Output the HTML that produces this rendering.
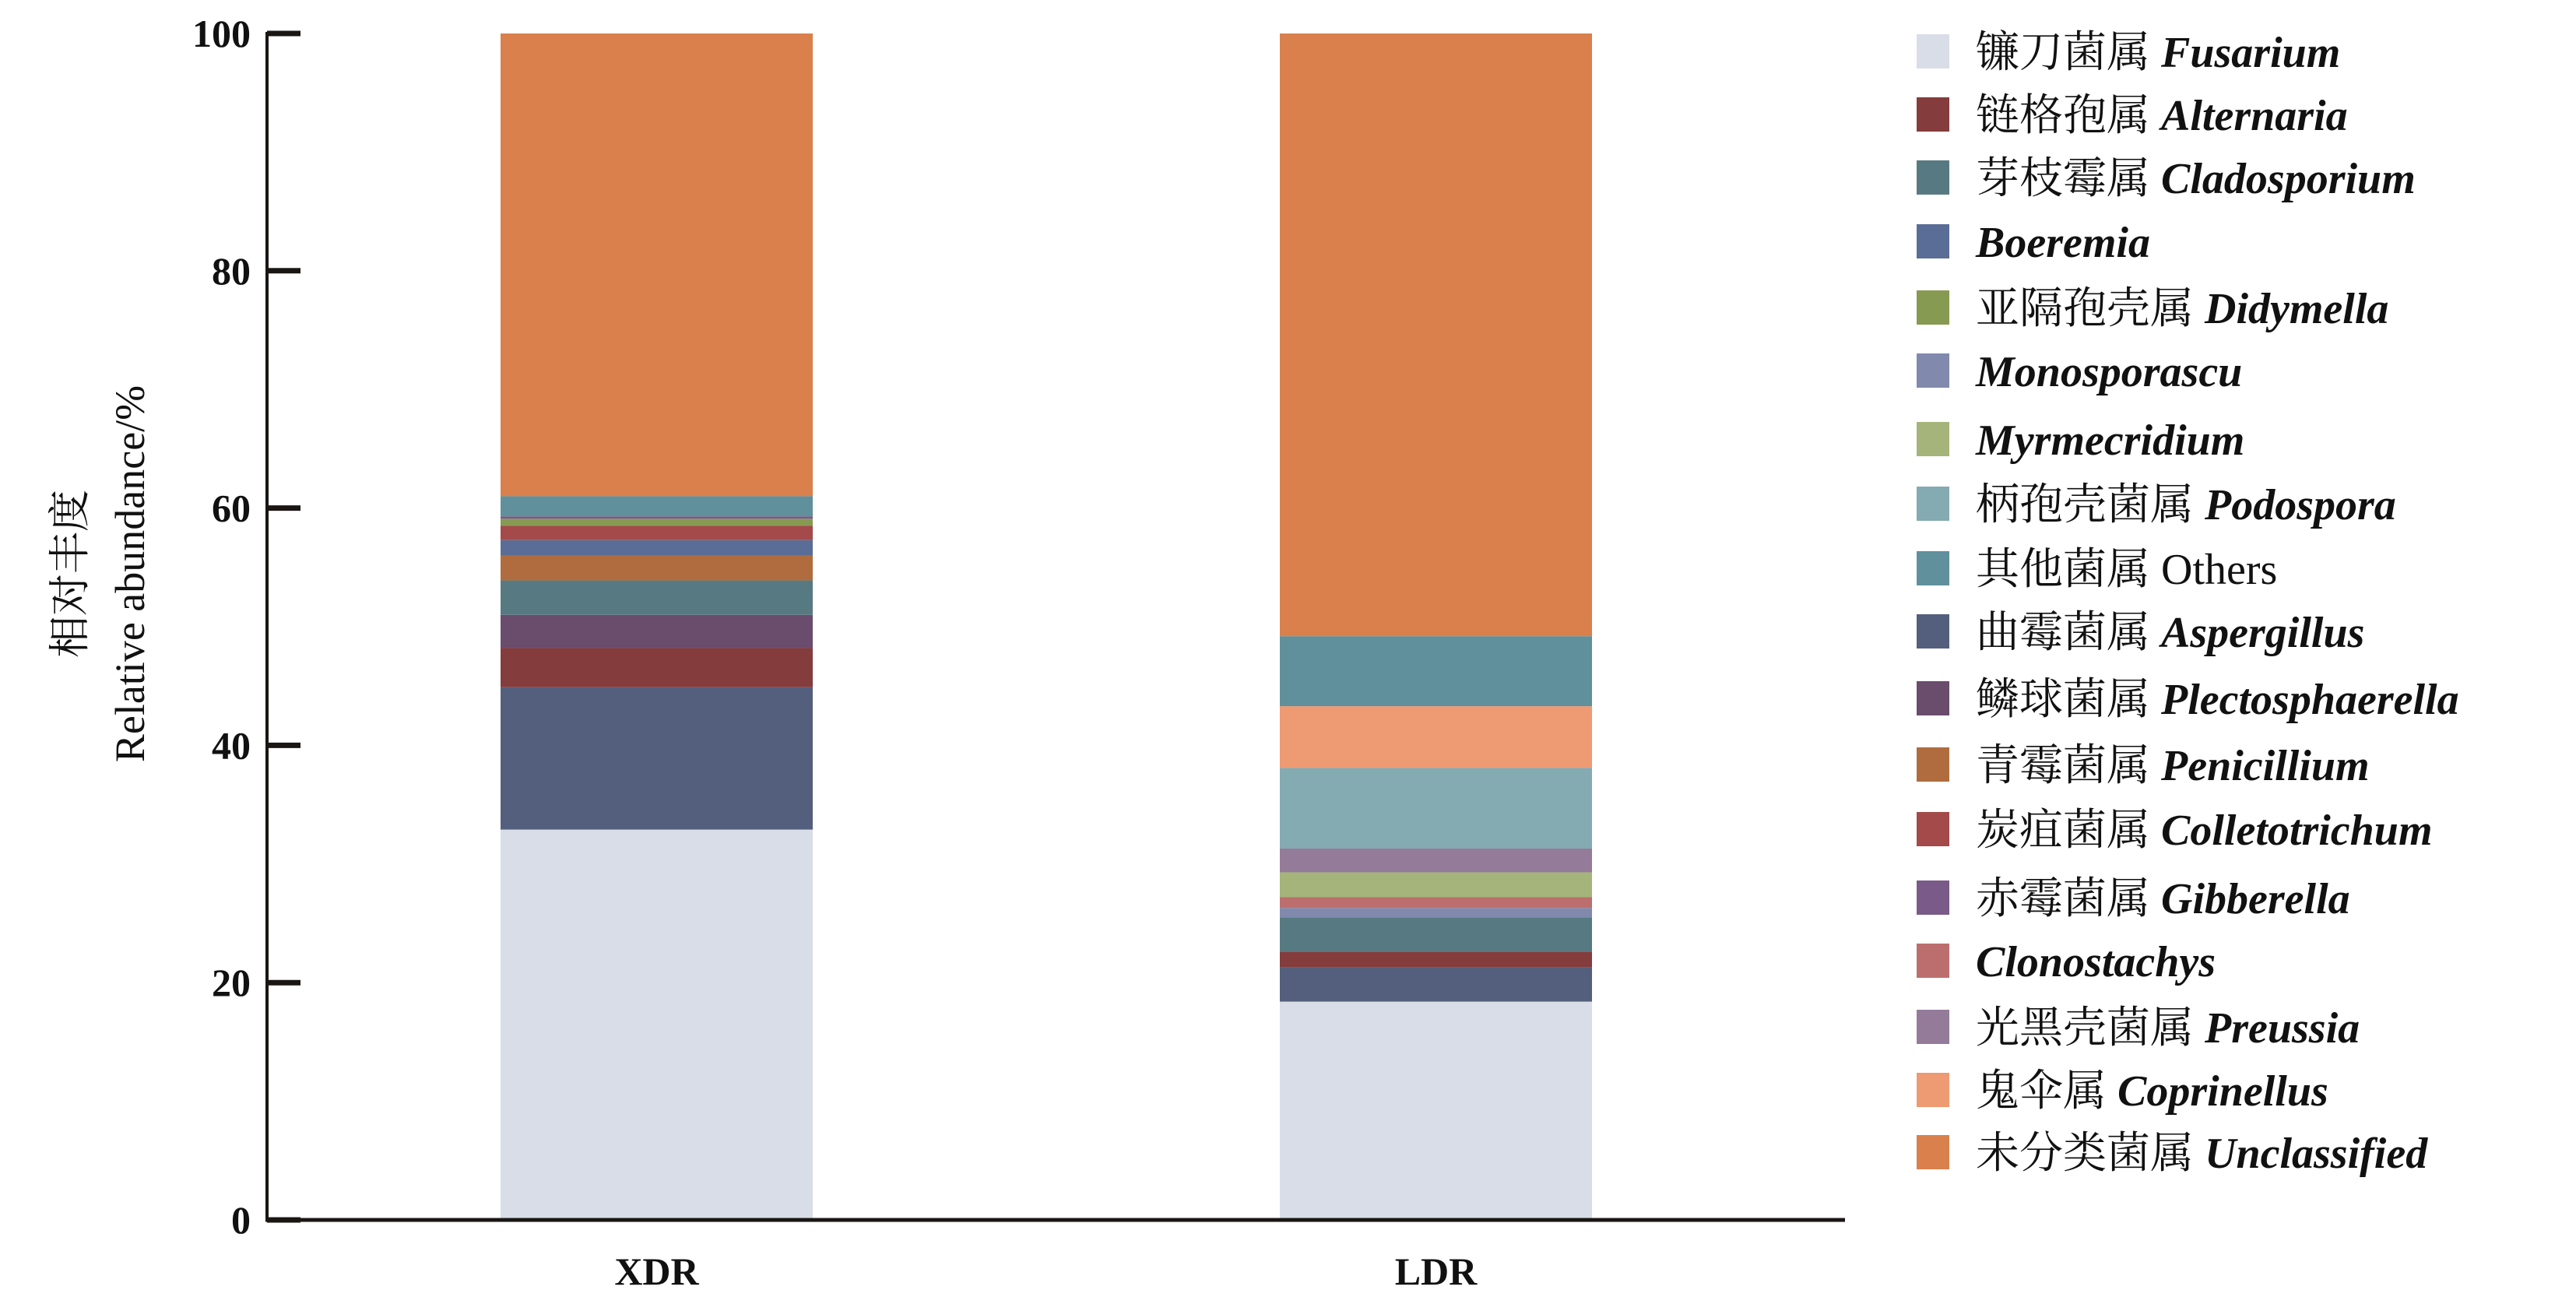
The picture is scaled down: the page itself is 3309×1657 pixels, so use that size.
<!DOCTYPE html>
<html><head><meta charset="utf-8">
<style>
html,body{margin:0;padding:0;background:#fff;}
svg{display:block;}
.tick{font-family:"Liberation Serif","Noto Serif CJK SC",serif;font-weight:bold;font-size:50px;fill:#111;}
.leg{font-family:"Liberation Serif","Noto Serif CJK SC",serif;font-size:56px;fill:#111;}
.it{font-style:italic;font-weight:bold;}
</style></head>
<body>
<svg id="chart" width="3309" height="1657" viewBox="0 0 3309 1657" xmlns="http://www.w3.org/2000/svg">
<g id="bars"></g>
<g id="axes"></g>
<g id="legend"></g>
<text class="leg" transform="translate(108,737) rotate(-90)" text-anchor="middle" style="font-size:54px">相对丰度</text>
<text class="leg" transform="translate(185,737) rotate(-90)" text-anchor="middle" style="font-size:54px">Relative abundance/%</text>
</svg>
<script>
const categories = ["XDR", "LDR"];
const seriesNames = ["Fusarium","Aspergillus","Alternaria","Plectosphaerella","Cladosporium","Penicillium","Boeremia","Colletotrichum","Didymella","Gibberella","Monosporascu","Clonostachys","Myrmecridium","Preussia","Podospora","Coprinellus","Others","Unclassified"];
const xdrValues = [32.9,12.0,3.3,2.8,2.9,2.1,1.3,1.2,0.6,0.2,0,0,0,0,0,0,1.7,39.0];
const ldrValues = [18.4,2.9,1.3,0,2.9,0,0,0,0,0,0.8,0.9,2.1,2.0,6.8,5.2,5.9,50.8];
const yTicks = [0,20,40,60,80,100];
const legendNames = ["Fusarium","Alternaria","Cladosporium","Boeremia","Didymella","Monosporascu","Myrmecridium","Podospora","Others","Aspergillus","Plectosphaerella","Penicillium","Colletotrichum","Gibberella","Clonostachys","Preussia","Coprinellus","Unclassified"];
const legendCN = ["镰刀菌属","链格孢属","芽枝霉属","","亚隔孢壳属","","","柄孢壳菌属","其他菌属","曲霉菌属","鳞球菌属","青霉菌属","炭疽菌属","赤霉菌属","","光黑壳菌属","鬼伞属","未分类菌属"];

const colors = {Fusarium:"#d9dde8",Alternaria:"#843c3c",Cladosporium:"#577a82",Boeremia:"#5a6d96",Didymella:"#879a52",Monosporascu:"#8189ad",Myrmecridium:"#a5b47a",Podospora:"#84aab2",Others:"#5f909c",Aspergillus:"#535f7c",Plectosphaerella:"#6a4c6c",Penicillium:"#b06c3e",Colletotrichum:"#a44a4a",Gibberella:"#7a5a88",Clonostachys:"#bc6e6e",Preussia:"#957b9a",Coprinellus:"#ee9a73",Unclassified:"#d9804d"};
const NS="http://www.w3.org/2000/svg";
const y0=1567, y100=43;
function yScale(v){return y0-(y0-y100)*v/100;}
const barLeft=[643,1644], barW=401;
function xScale(i){return barLeft[i];}
const allVals=[xdrValues,ldrValues];
const bars=document.getElementById('bars');
categories.forEach((c,i)=>{
  let acc=0;
  allVals[i].forEach((v,j)=>{
    if(v<=0) return;
    const r=document.createElementNS(NS,'rect');
    
    
    r.setAttribute('x',xScale(i));r.setAttribute('width',barW);
    r.setAttribute('y',yScale(acc+v));r.setAttribute('height',yScale(acc)-yScale(acc+v));
    r.setAttribute('fill',colors[seriesNames[j]]);
    bars.appendChild(r);
    acc+=v;
  });
  const t=document.createElementNS(NS,'text');
  
  
  t.setAttribute('class','tick');t.setAttribute('text-anchor','middle');
  t.setAttribute('x',xScale(i)+barW/2);t.setAttribute('y',1650);
  t.textContent=c;bars.appendChild(t);
});
const axes=document.getElementById('axes');
function line(x1,y1,x2,y2,w,name){const l=document.createElementNS(NS,'line');
  
  
  l.setAttribute('x1',x1);l.setAttribute('y1',y1);l.setAttribute('x2',x2);l.setAttribute('y2',y2);
  l.setAttribute('stroke','#1a1614');l.setAttribute('stroke-width',w);axes.appendChild(l);}
line(343,y100-2,343,y0+2,4,'y-axis-line');
line(341,y0,2370,y0,5,'x-axis-line');
yTicks.forEach(v=>{
  line(343,yScale(v),386,yScale(v),7,'y-tick');
  const t=document.createElementNS(NS,'text');
  
  
  t.setAttribute('class','tick');t.setAttribute('text-anchor','end');
  t.setAttribute('x',322);t.setAttribute('y',yScale(v)+17);
  t.textContent=v;axes.appendChild(t);
});
const legendY=[66,147,228,310,395,476,564,647,730,811,897,982,1065,1153,1234,1319,1400,1480];
const leg=document.getElementById('legend');
legendNames.forEach((n,i)=>{
  const g=document.createElementNS(NS,'g');
  
  
  const r=document.createElementNS(NS,'rect');
  
  
  r.setAttribute('x',2462);r.setAttribute('y',legendY[i]-22);r.setAttribute('width',42);r.setAttribute('height',44);
  r.setAttribute('fill',colors[n]);g.appendChild(r);
  const t=document.createElementNS(NS,'text');
  
  
  t.setAttribute('class','leg');t.setAttribute('x',2538);t.setAttribute('y',legendY[i]+20);
  if(legendCN[i]){const s=document.createElementNS(NS,'tspan');s.textContent=legendCN[i]+' ';t.appendChild(s);}
  const s2=document.createElementNS(NS,'tspan');
  if(n!=="Others") s2.setAttribute('class','it');
  s2.textContent=n;t.appendChild(s2);
  g.appendChild(t);leg.appendChild(g);
});
</script>
</body></html>
